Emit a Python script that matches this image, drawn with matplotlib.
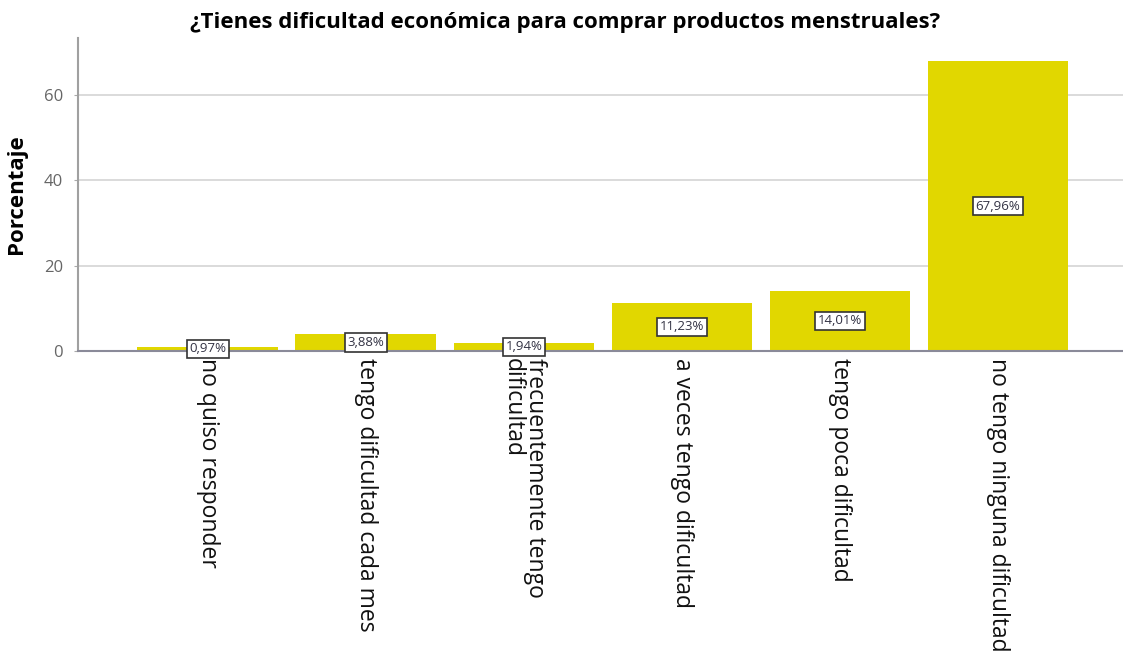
import matplotlib.pyplot as plt

categories = [
    "no quiso responder",
    "tengo dificultad cada mes",
    "frecuentemente tengo\ndificultad",
    "a veces tengo dificultad",
    "tengo poca dificultad",
    "no tengo ninguna dificultad",
]
percentages = [0.97, 3.88, 1.94, 11.23, 14.01, 67.96]
y_ticks = [0, 20, 40, 60]

plt.rcParams["font.family"] = ["Open Sans", "DejaVu Sans"]

fig = plt.figure(figsize=(11.23, 6.57), dpi=100)
ax = fig.add_axes([0.0695, 0.466, 0.9305, 0.476])

x = list(range(len(categories)))
bars = ax.bar(x, percentages, width=0.89, color="#E1D700", zorder=2)

# Value labels in boxes at the middle of each bar
for xi, val in zip(x, percentages):
    ax.text(xi, val / 2, f"{val:.2f}%".replace(".", ","),
            ha="center", va="center", fontsize=9.5, color="#333344", zorder=3,
            bbox=dict(boxstyle="square,pad=0.2", fc="white", ec="#333333", lw=1.2))

ax.set_xlim(-0.82, 5.79)
ax.set_ylim(0, 73.4)
ax.set_yticks(y_ticks)
ax.set_yticklabels([str(t) for t in y_ticks], color="#666666", fontsize=12)
ax.yaxis.grid(True, color="#d4d4d4", lw=1.2, zorder=0)

ax.set_xticks(x)
ax.set_xticklabels(categories, rotation=270, ha="center", va="top",
                   fontsize=16.5, color="#111111", linespacing=0.85,
                   multialignment="left")
ax.tick_params(axis="x", length=0, pad=5)
ax.tick_params(axis="y", length=3, color="#aaaaaa", pad=8)

for side in ["top", "right"]:
    ax.spines[side].set_visible(False)
ax.spines["left"].set_color("#a0a0a0")
ax.spines["left"].set_linewidth(1.5)
ax.spines["bottom"].set_color("#8a8a99")
ax.spines["bottom"].set_linewidth(1.5)

ax.set_ylabel("Porcentaje", fontsize=16, fontweight="bold", labelpad=12)
fig.text(0.503, 0.965, "¿Tienes dificultad económica para comprar productos menstruales?",
         ha="center", va="center", fontsize=16, fontweight="bold")

fig.savefig("out.png", dpi=100)
